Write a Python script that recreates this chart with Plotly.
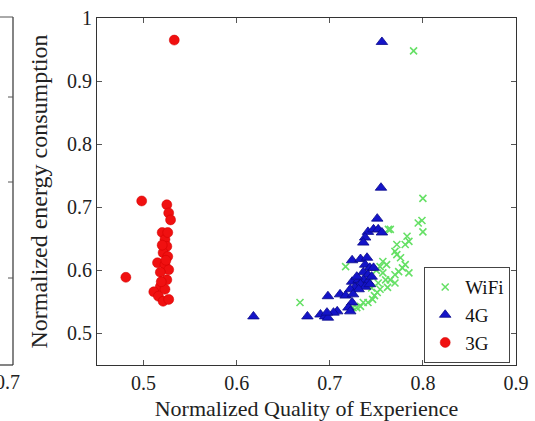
import plotly.graph_objects as go

# ---- data ----
wifi_x = [0.790, 0.800, 0.799, 0.800, 0.795, 0.783, 0.785, 0.781, 0.772, 0.770,
          0.772, 0.765, 0.781, 0.778, 0.774, 0.770, 0.785, 0.761, 0.757, 0.754,
          0.765, 0.760, 0.770, 0.752, 0.754, 0.751, 0.746, 0.741, 0.736, 0.733,
          0.729, 0.725, 0.668, 0.717, 0.757, 0.748, 0.762, 0.776, 0.742, 0.750,
          0.745, 0.763]
wifi_y = [0.948, 0.714, 0.679, 0.661, 0.675, 0.654, 0.646, 0.641, 0.641, 0.630,
          0.625, 0.665, 0.609, 0.604, 0.598, 0.593, 0.596, 0.609, 0.614, 0.606,
          0.585, 0.585, 0.580, 0.580, 0.570, 0.565, 0.554, 0.549, 0.549, 0.543,
          0.541, 0.541, 0.549, 0.606, 0.596, 0.560, 0.573, 0.620, 0.590, 0.600,
          0.572, 0.665]

g4_x = [0.756, 0.755, 0.751, 0.741, 0.747, 0.752, 0.756, 0.738, 0.736, 0.724,
        0.733, 0.740, 0.738, 0.743, 0.747, 0.736, 0.741, 0.724, 0.731, 0.736,
        0.741, 0.733, 0.738, 0.727, 0.722, 0.731, 0.711, 0.717, 0.698, 0.725,
        0.724, 0.720, 0.708, 0.704, 0.690, 0.695, 0.698, 0.697, 0.676, 0.722,
        0.618, 0.745, 0.743, 0.729]
g4_y = [0.962, 0.731, 0.682, 0.661, 0.665, 0.665, 0.660, 0.652, 0.644, 0.616,
        0.618, 0.620, 0.609, 0.604, 0.604, 0.597, 0.593, 0.582, 0.585, 0.585,
        0.582, 0.578, 0.574, 0.573, 0.570, 0.570, 0.562, 0.560, 0.559, 0.562,
        0.549, 0.541, 0.535, 0.533, 0.530, 0.527, 0.525, 0.533, 0.527, 0.535,
        0.527, 0.590, 0.578, 0.590]

g3_x = [0.533, 0.498, 0.481, 0.525, 0.527, 0.529, 0.520, 0.523, 0.525, 0.521,
        0.526, 0.515, 0.523, 0.527, 0.518, 0.525, 0.518, 0.511, 0.523, 0.516,
        0.521, 0.527, 0.520, 0.526, 0.519, 0.524]
g3_y = [0.965, 0.710, 0.589, 0.704, 0.691, 0.680, 0.660, 0.649, 0.638, 0.628,
        0.622, 0.612, 0.609, 0.601, 0.597, 0.585, 0.574, 0.566, 0.570, 0.559,
        0.551, 0.554, 0.640, 0.660, 0.582, 0.616]

x_ticks = [0.5, 0.6, 0.7, 0.8, 0.9]
x_ticklabels = ["0.5", "0.6", "0.7", "0.8", "0.9"]
y_ticks = [0.5, 0.6, 0.7, 0.8, 0.9, 1.0]
y_ticklabels = ["0.5", "0.6", "0.7", "0.8", "0.9", "1"]

x_title = "Normalized Quality of Experience"
y_title = "Normalized energy consumption"

FONT = "Liberation Serif, Times New Roman, serif"

fig = go.Figure()
fig.add_trace(go.Scatter(
    x=wifi_x, y=wifi_y, mode="markers", name="WiFi",
    marker=dict(symbol="x-thin", size=7, color="#66e066",
                line=dict(color="#66e066", width=1.6))))
fig.add_trace(go.Scatter(
    x=g4_x, y=g4_y, mode="markers", name="4G",
    marker=dict(symbol="triangle-up", size=10, color="#1414c8",
                line=dict(color="#0a0a8a", width=0.8))))
fig.add_trace(go.Scatter(
    x=g3_x, y=g3_y, mode="markers", name="3G",
    marker=dict(symbol="circle", size=10, color="#f01010",
                line=dict(color="#d00000", width=0.5))))

W, H = 535, 421
ML, MR, MT, MB = 97, 19, 18, 56
pw = W - ML - MR
ph = H - MT - MB


def px_x(p):
    return (p - ML) / pw


def px_y(p):
    return 1 - (p - MT) / ph


axis_common = dict(
    showline=True, linecolor="#333333", linewidth=1.2, mirror="ticks",
    ticks="inside", ticklen=5, tickcolor="#555555", tickwidth=1,
    showgrid=False, zeroline=False, automargin=False,
    tickfont=dict(family=FONT, size=20, color="#222222"),
)

fig.update_layout(
    width=W, height=H,
    margin=dict(l=ML, r=MR, t=MT, b=MB, pad=0, autoexpand=False),
    paper_bgcolor="white", plot_bgcolor="white",
    font=dict(family=FONT, color="#222222"),
    xaxis=dict(range=[0.45, 0.9], tickvals=x_ticks, ticktext=x_ticklabels,
               title=dict(text=x_title, font=dict(family=FONT, size=22), standoff=8),
               **axis_common),
    yaxis=dict(range=[0.45, 1.0], tickvals=y_ticks, ticktext=y_ticklabels,
               title=dict(text=y_title, font=dict(family=FONT, size=24), standoff=12),
               **axis_common),
    legend=dict(x=px_x(424), y=px_y(267), xanchor="left", yanchor="top",
                bgcolor="white", bordercolor="#444444", borderwidth=1.2,
                font=dict(family=FONT, size=19, color="#111111"),
                itemwidth=30, tracegroupgap=0),
    showlegend=True,
)

# fragment of the neighbouring chart visible on the left edge
shapes = [
    dict(type="line", xref="paper", yref="paper", x0=px_x(13), x1=px_x(13),
         y0=px_y(17), y1=px_y(365), line=dict(color="#333333", width=1.2)),
    dict(type="line", xref="paper", yref="paper", x0=px_x(-2), x1=px_x(13),
         y0=px_y(17), y1=px_y(17), line=dict(color="#555555", width=1)),
    dict(type="line", xref="paper", yref="paper", x0=px_x(-2), x1=px_x(13),
         y0=px_y(365), y1=px_y(365), line=dict(color="#333333", width=1.2)),
]
for ty in (97, 182, 278):
    shapes.append(dict(type="line", xref="paper", yref="paper",
                       x0=px_x(8), x1=px_x(13), y0=px_y(ty), y1=px_y(ty),
                       line=dict(color="#555555", width=1)))
fig.update_layout(shapes=shapes)
fig.add_annotation(xref="paper", yref="paper", x=px_x(22), y=px_y(382),
                   xanchor="right", yanchor="middle", showarrow=False,
                   text="0.7", font=dict(family=FONT, size=20, color="#222222"))

fig.write_html("out.html")
